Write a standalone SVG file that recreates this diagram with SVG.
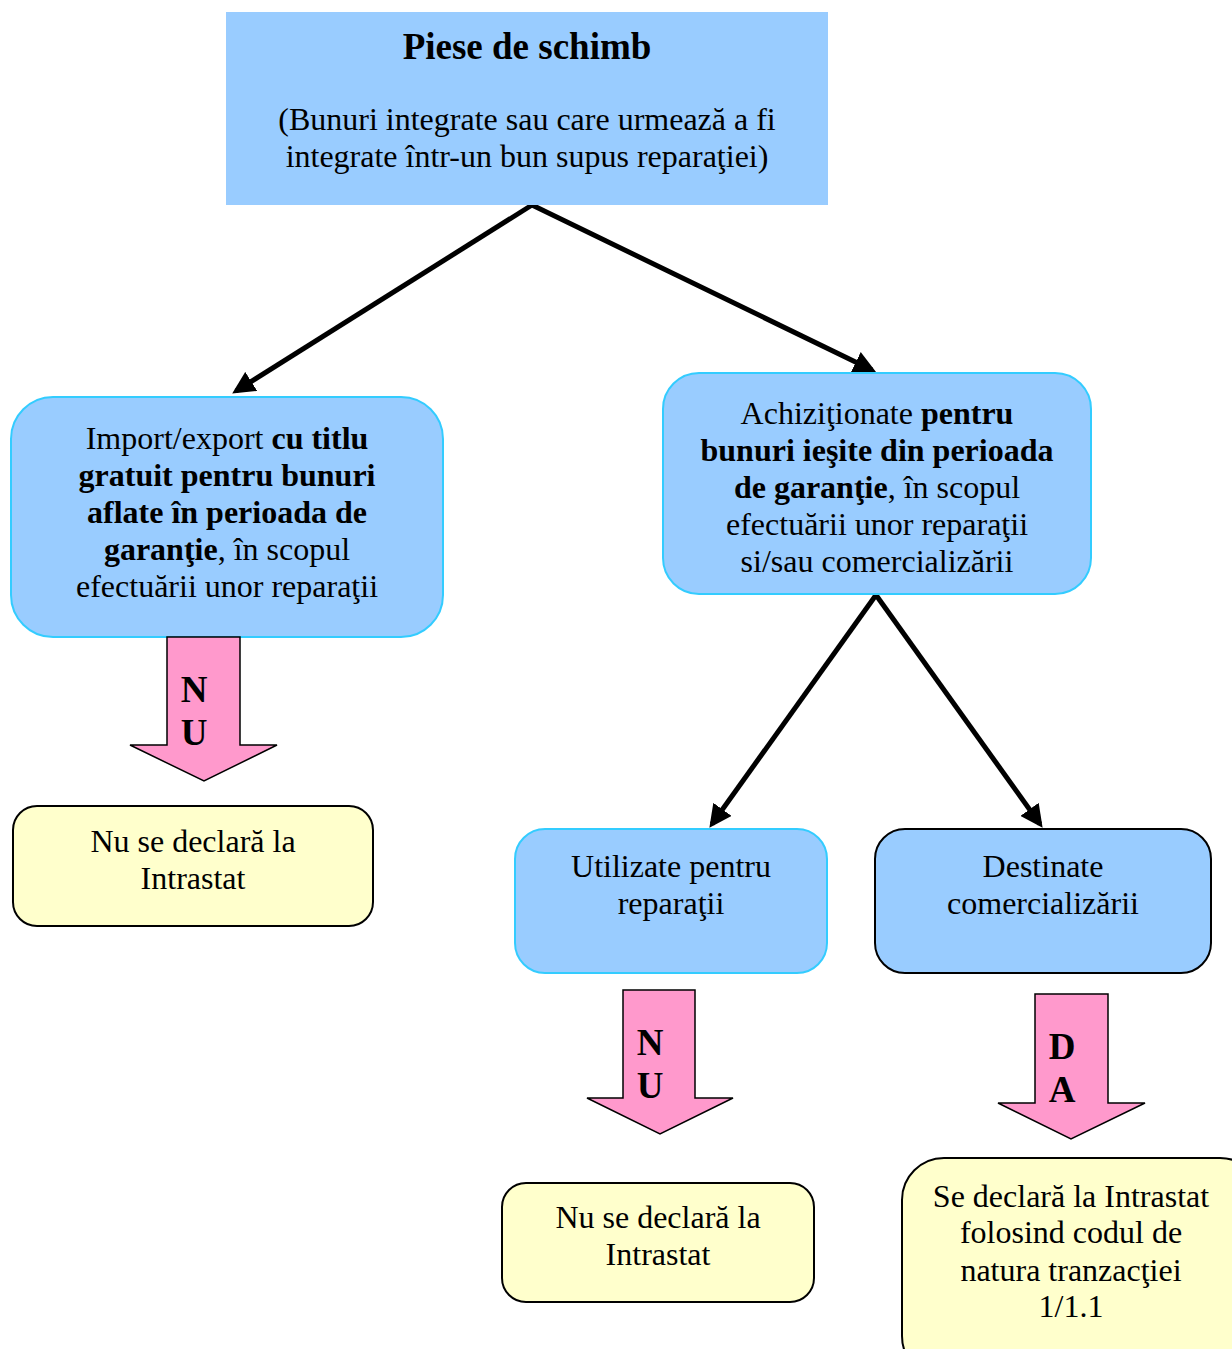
<svg xmlns="http://www.w3.org/2000/svg" width="1232" height="1349" viewBox="0 0 1232 1349">
  <style>
    text { font-family: "Liberation Serif", "Times New Roman", serif; fill: #000; text-anchor: middle; }
    .t { font-size: 32px; }
    .b { font-weight: bold; }
    .title { font-size: 37px; font-weight: bold; }
    .blue { fill: #99ccff; stroke: #33ccff; stroke-width: 2; }
    .blueDark { fill: #99ccff; stroke: #000; stroke-width: 2; }
    .yellow { fill: #ffffcc; stroke: #000; stroke-width: 2; }
    .pink { fill: #ff99cc; stroke: #000; stroke-width: 1.5; }
    .yn { font-size: 37px; font-weight: bold; }
    .conn { stroke: #000; stroke-width: 5; fill: none; marker-end: url(#head); }
  </style>
  <defs>
    <marker id="head" viewBox="0 0 10 10" refX="8" refY="5" markerWidth="4.5" markerHeight="4.5" orient="auto" markerUnits="strokeWidth">
      <path d="M0,0 L10,5 L0,10 z" fill="#000"/>
    </marker>
  </defs>
  <rect width="1232" height="1349" fill="#fff"/>

  <!-- connectors -->
  <g id="connectors">
    <line class="conn" x1="532" y1="205" x2="236" y2="391"/>
    <line class="conn" x1="532" y1="205" x2="872" y2="370"/>
    <line class="conn" x1="876" y1="595" x2="712" y2="824"/>
    <line class="conn" x1="876" y1="595" x2="1040" y2="824"/>
  </g>

  <!-- top node -->
  <g id="piese">
    <rect x="226" y="12" width="602" height="193" fill="#99ccff"/>
    <text class="title" x="527" y="59">Piese de schimb</text>
    <text class="t" x="527" y="130">(Bunuri integrate sau care urmează a fi</text>
    <text class="t" x="527" y="167">integrate într-un bun supus reparaţiei)</text>
  </g>

  <!-- left branch -->
  <g id="garantie">
    <rect class="blue" x="11" y="397" width="432" height="240" rx="42"/>
    <text class="t" x="227" y="449">Import/export <tspan class="b">cu titlu</tspan></text>
    <text class="t b" x="227" y="486">gratuit pentru bunuri</text>
    <text class="t b" x="227" y="523">aflate în perioada de</text>
    <text class="t" x="227" y="560"><tspan class="b">garanţie</tspan>, în scopul</text>
    <text class="t" x="227" y="597">efectuării unor reparaţii</text>
  </g>

  <!-- right branch -->
  <g id="achizitionate">
    <rect class="blue" x="663" y="373" width="428" height="221" rx="36"/>
    <text class="t" x="877" y="424">Achiziţionate <tspan class="b">pentru</tspan></text>
    <text class="t b" x="877" y="461">bunuri ieşite din perioada</text>
    <text class="t" x="877" y="498"><tspan class="b">de garanţie</tspan>, în scopul</text>
    <text class="t" x="877" y="535">efectuării unor reparaţii</text>
    <text class="t" x="877" y="572">si/sau comercializării</text>
  </g>

  <g id="utilizate">
    <rect class="blue" x="515" y="829" width="312" height="144" rx="30"/>
    <text class="t" x="671" y="877">Utilizate pentru</text>
    <text class="t" x="671" y="914">reparaţii</text>
  </g>

  <g id="destinate">
    <rect class="blueDark" x="875" y="829" width="336" height="144" rx="30"/>
    <text class="t" x="1043" y="877">Destinate</text>
    <text class="t" x="1043" y="914">comercializării</text>
  </g>

  <!-- decision arrows -->
  <g id="nu1">
    <path class="pink" d="M167,637 H240 V745 H277 L204,781 L130,745 H167 Z"/>
    <text class="yn" x="194" y="702">N</text>
    <text class="yn" x="194" y="745">U</text>
  </g>

  <g id="nu2">
    <path class="pink" d="M623,990 H695 V1098 H733 L660,1134 L587,1098 H623 Z"/>
    <text class="yn" x="650" y="1055">N</text>
    <text class="yn" x="650" y="1098">U</text>
  </g>

  <g id="da">
    <path class="pink" d="M1035,994 H1108 V1103 H1145 L1071,1139 L998,1103 H1035 Z"/>
    <text class="yn" x="1062" y="1059">D</text>
    <text class="yn" x="1062" y="1102">A</text>
  </g>

  <!-- outcomes -->
  <g id="nudeclara1">
    <rect class="yellow" x="13" y="806" width="360" height="120" rx="24"/>
    <text class="t" x="193" y="852">Nu se declară la</text>
    <text class="t" x="193" y="889">Intrastat</text>
  </g>

  <g id="nudeclara2">
    <rect class="yellow" x="502" y="1183" width="312" height="119" rx="24"/>
    <text class="t" x="658" y="1228">Nu se declară la</text>
    <text class="t" x="658" y="1265">Intrastat</text>
  </g>

  <g id="sedeclara">
    <rect class="yellow" x="902" y="1158" width="360" height="220" rx="42"/>
    <text class="t" x="1071" y="1207">Se declară la Intrastat</text>
    <text class="t" x="1071" y="1243">folosind codul de</text>
    <text class="t" x="1071" y="1281">natura tranzacţiei</text>
    <text class="t" x="1071" y="1317">1/1.1</text>
  </g>
</svg>
